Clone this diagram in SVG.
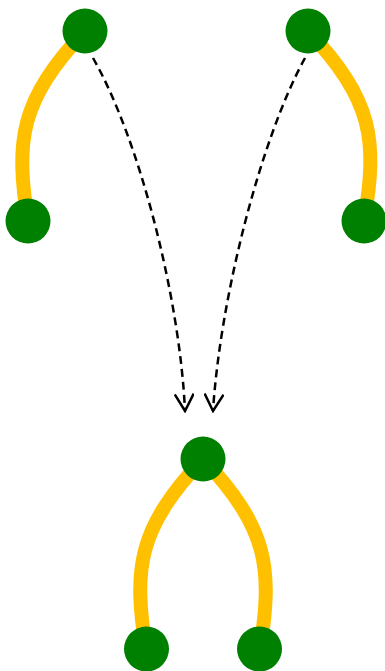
<svg xmlns="http://www.w3.org/2000/svg" width="385" height="671" viewBox="0 0 385 671">
<style>
.node{fill:#008000}
.link{fill:none;stroke:#ffc000;stroke-width:14}
.dash{fill:none;stroke:#000;stroke-width:2.5;stroke-dasharray:8,5}
</style>
<defs>
<marker id="arr" viewBox="0 0 20 20" refX="18" refY="10" markerWidth="20" markerHeight="20" markerUnits="userSpaceOnUse" orient="auto">
<path d="M1,0.5 L18,10 L1,19.5" fill="none" stroke="#000" stroke-width="2.5"/>
</marker>
</defs>
<rect width="385" height="671" fill="#fff"/>
<g id="connectors">
<path class="link" d="M85,31 C20,100 15,140 28,221"/>
<path class="link" d="M308,31 C373,100 378,140 364,221"/>
<path class="link" d="M203,459 C138,528 133,568 146,649"/>
<path class="link" d="M203,459 C268,528 273,568 260,649"/>
<path class="dash" d="M93,58 C140,140 180,300 185,411" marker-end="url(#arr)"/>
<path class="dash" d="M305,58 C260,140 220,300 213,411" marker-end="url(#arr)"/>
</g>
<g id="n1"><circle class="node" cx="85" cy="31" r="22.5"/></g>
<g id="n2"><circle class="node" cx="28" cy="221" r="22.5"/></g>
<g id="n3"><circle class="node" cx="308" cy="31" r="22.5"/></g>
<g id="n4"><circle class="node" cx="364" cy="221" r="22.5"/></g>
<g id="n5"><circle class="node" cx="203" cy="459" r="22.5"/></g>
<g id="n6"><circle class="node" cx="146.5" cy="649" r="22.5"/></g>
<g id="n7"><circle class="node" cx="259.5" cy="649" r="22.5"/></g>
</svg>
